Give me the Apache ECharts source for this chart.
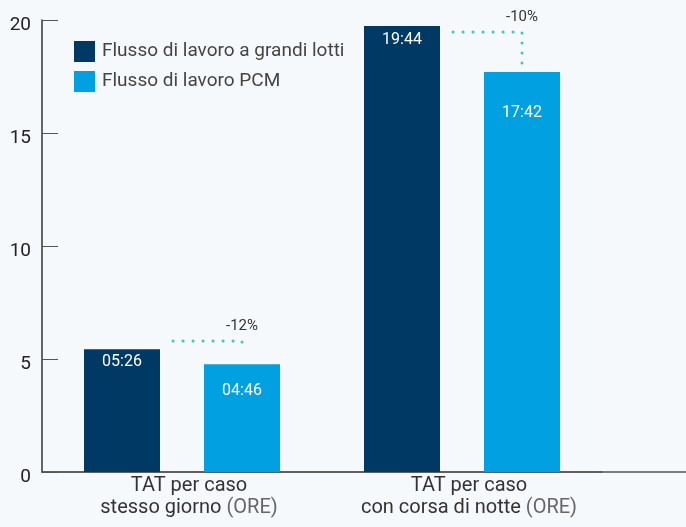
<!DOCTYPE html>
<html>
<head>
<meta charset="utf-8">
<script src="https://cdn.jsdelivr.net/npm/echarts@6/dist/echarts.min.js"></script>
<style>
  html, body { margin: 0; padding: 0; background: #f6f9fc; }
  #main { width: 686px; height: 527px; }
</style>
</head>
<body>
<div id="main"></div>
<script>
// categorie
var categories = ['TAT per caso\nstesso giorno', 'TAT per caso\ncon corsa di notte'];
var unitLabel = '(ORE)';

// ore decimali + etichette hh:mm
var batchHours = [5.43, 19.73];
var batchLabels = ['05:26', '19:44'];
var pcmHours = [4.77, 17.70];
var pcmLabels = ['04:46', '17:42'];

// connettori tratteggiati con la variazione percentuale
var deltaLabels = ['-12%', '-10%'];
var connectorLevel = [5.8, 19.47];
var connectorEnd = [5.44, 17.96];

var yTicks = [0, 5, 10, 15, 20];

var DARK = '#003963';
var LIGHT = '#00a0e1';
var TEAL = '#3cc8bf';
var BAR_W = 76;
var GAP = 44;
// distanza etichetta dal top della barra
var labelDist = [[5, 19], [6, 33]];

function barData(values, labels, s) {
  return values.map(function (v, i) {
    return {
      value: v,
      label: { formatter: labels[i], distance: labelDist[i][s] }
    };
  });
}

var connectors = connectorLevel.map(function (v, i) {
  return [i, v, connectorEnd[i]];
});

var myChart = echarts.init(document.getElementById('main'));

myChart.setOption({
  backgroundColor: '#f6f9fc',
  textStyle: { fontFamily: 'Roboto' },
  animation: false,
  grid: [
    { left: 42, top: 20, width: 560, height: 452, outerBoundsMode: 'none' },
    // solo per prolungare la linea dell'asse x fino al bordo
    { left: 42, top: 20, right: 0, height: 452, outerBoundsMode: 'none' }
  ],
  legend: {
    data: ['Flusso di lavoro a grandi lotti', 'Flusso di lavoro PCM'],
    orient: 'vertical',
    left: 69,
    top: 36,
    itemWidth: 21,
    itemHeight: 21,
    itemGap: 9,
    icon: 'rect',
    textStyle: { fontSize: 19, color: '#444', padding: [0, 0, 0, 2] }
  },
  xAxis: [{
    type: 'category',
    data: categories,
    axisLine: { lineStyle: { color: '#555', width: 1.5 } },
    axisTick: { show: false },
    axisLabel: {
      margin: 3,
      interval: 0,
      color: '#333',
      fontSize: 20,
      lineHeight: 22,
      padding: [0, 0, 0, 14],
      formatter: function (v) {
        return v + ' {u|' + unitLabel + '}';
      },
      rich: {
        u: { color: '#666', fontSize: 20, lineHeight: 22 }
      }
    }
  }, {
    type: 'value',
    gridIndex: 1,
    axisLine: { show: true, onZero: false, lineStyle: { color: '#555', width: 1.5 } },
    axisTick: { show: false },
    axisLabel: { show: false },
    splitLine: { show: false }
  }],
  yAxis: [{
    type: 'value',
    min: yTicks[0],
    max: yTicks[yTicks.length - 1],
    interval: 5,
    splitLine: { show: false },
    axisLine: { show: true, lineStyle: { color: '#333', width: 1.5 } },
    axisTick: { show: true, inside: true, length: 16, lineStyle: { color: '#555' } },
    axisLabel: { color: '#222', fontSize: 19, margin: 11, verticalAlign: 'top', lineHeight: 10 }
  }, {
    type: 'value',
    gridIndex: 1,
    show: false
  }],
  series: [{
    name: 'Flusso di lavoro a grandi lotti',
    type: 'bar',
    barWidth: BAR_W,
    barGap: (GAP / BAR_W * 100) + '%',
    itemStyle: { color: DARK },
    label: { show: true, position: 'insideTop', color: '#fff', fontSize: 16 },
    data: barData(batchHours, batchLabels, 0)
  }, {
    name: 'Flusso di lavoro PCM',
    type: 'bar',
    barWidth: BAR_W,
    itemStyle: { color: LIGHT },
    label: { show: true, position: 'insideTop', color: '#fff', fontSize: 16 },
    data: barData(pcmHours, pcmLabels, 1)
  }, {
    name: 'delta',
    type: 'custom',
    z: 5,
    encode: { x: 0, y: [1, 2] },
    data: connectors,
    renderItem: function (params, api) {
      var i = api.value(0);
      var start = api.coord([i, api.value(1)]);
      var end = api.coord([i, api.value(2)]);
      var x0 = start[0] - 9;
      var x1 = start[0] + BAR_W / 2 + GAP / 2;
      return {
        type: 'group',
        children: [{
          type: 'polyline',
          shape: { points: [[x0, start[1]], [x1, start[1]], [x1, end[1]]] },
          style: { stroke: TEAL, fill: null, lineWidth: 3, lineCap: 'round', lineDash: [0.1, 9.9] }
        }, {
          type: 'text',
          x: x1,
          y: start[1] - 15,
          style: {
            text: deltaLabels[i],
            fill: '#333',
            font: '15px Roboto',
            align: 'center',
            verticalAlign: 'middle'
          }
        }]
      };
    }
  }]
});
</script>
</body>
</html>
